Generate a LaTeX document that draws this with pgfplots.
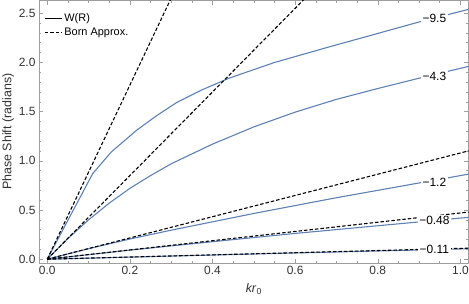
\documentclass[border=0pt]{standalone}
\usepackage{fontspec}
\setmainfont{Liberation Sans}
\usepackage{pgfplots}
\pgfplotsset{compat=1.18}
\definecolor{mblue}{rgb}{0.368417,0.506779,0.709798}
\definecolor{framegray}{rgb}{0.62,0.62,0.62}
\begin{document}
\begin{tikzpicture}
\begin{axis}[name=ax,
  scale only axis, width=430bp, height=263bp,
  xmin=-0.02, xmax=1.02, ymin=-0.04, ymax=2.632,
  axis line style={framegray, line width=0.6bp},
  tick style={framegray, line width=0.6bp},
  tick align=inside,
  major tick length=4.5bp, minor tick length=2.5bp,
  xtick={0,0.2,0.4,0.6,0.8,1.0}, minor x tick num=3,
  ytick={0,0.5,1.0,1.5,2.0,2.5}, minor y tick num=4,
  /pgf/number format/assume math mode=true,
  xticklabel style={/pgf/number format/.cd, fixed, fixed zerofill, precision=1},
  yticklabel style={/pgf/number format/.cd, fixed, fixed zerofill, precision=1},
  ticklabel style={font=\fontsize{12}{14}\selectfont, text=black!80},
  xlabel={\textit{kr}\textsubscript{0}},
  ylabel={Phase Shift (radians)},
  every axis x label/.style={at={(axis description cs:0.5,-0.097)}, anchor=center, font=\fontsize{12.5}{14}\selectfont, text=black!80},
  every axis y label/.style={at={(axis description cs:-0.072,0.5)}, anchor=center, rotate=90, font=\fontsize{12.5}{14}\selectfont, text=black!80},
  legend style={at={(0.005,0.965)}, anchor=north west, draw=none, fill=none, font=\fontsize{11}{13}\selectfont, row sep=1bp},
  legend cell align=left,
  legend image post style={line width=1.1bp},
  clip=true,
]
\addlegendimage{black, line width=1.1bp}
\addlegendentry{W(R)}
\addlegendimage{black, line width=1.1bp, dash pattern=on 3.5bp off 2bp}
\addlegendentry{Born Approx.}

% W(R) curves
\addplot[mblue, line width=1.1bp, forget plot] coordinates {
(0,0) (0.11,0.87) (0.155,1.09) (0.216,1.31) (0.265,1.46) (0.314,1.595) (0.371,1.715)
(0.44,1.84) (0.55,2.00) (0.688,2.165) (0.8,2.295) (0.907,2.42) (1.02,2.54)};
\addplot[mblue, line width=1.1bp, forget plot] coordinates {
(0,0) (0.05,0.21) (0.1,0.40) (0.15,0.57) (0.2,0.72) (0.25,0.85) (0.3,0.97) (0.4,1.17)
(0.5,1.345) (0.6,1.495) (0.7,1.625) (0.8,1.735) (0.9,1.84) (1.0,1.94) (1.02,1.96)};
\addplot[mblue, line width=1.1bp, forget plot] coordinates {
(0,0) (0.1,0.107) (0.2,0.205) (0.3,0.295) (0.4,0.38) (0.5,0.465) (0.6,0.545)
(0.7,0.625) (0.8,0.70) (0.9,0.775) (1.0,0.85) (1.02,0.865)};
\addplot[mblue, line width=1.1bp, forget plot] coordinates {
(0,0) (0.2,0.092) (0.4,0.178) (0.6,0.262) (0.8,0.34) (1.0,0.418) (1.02,0.425)};
\addplot[mblue, line width=1.1bp, forget plot] coordinates {
(0,0) (0.5,0.053) (1.0,0.104) (1.02,0.106)};

% Born approximation lines
\addplot[black, line width=1.1bp, dash pattern=on 3.5bp off 2bp, forget plot] coordinates {(0,0) (0.35,3.0975)};
\addplot[black, line width=1.1bp, dash pattern=on 3.5bp off 2bp, forget plot] coordinates {(0,0) (0.7,2.975)};
\addplot[black, line width=1.1bp, dash pattern=on 3.5bp off 2bp, forget plot] coordinates {(0,0) (1.02,1.1016)};
\addplot[black, line width=1.1bp, dash pattern=on 3.5bp off 2bp, forget plot] coordinates {(0,0) (1.02,0.4794)};
\addplot[black, line width=1.1bp, dash pattern=on 3.5bp off 2bp, forget plot] coordinates {(0,0) (1.02,0.1122)};

% contour-style labels
\addplot[draw=none, forget plot, nodes near coords, point meta=explicit symbolic,
  every node near coord/.style={anchor=center, fill=white, inner sep=1.5bp, text=black, font=\fontsize{12}{14}\selectfont}]
  coordinates {(0.937,2.45) [−9.5] (0.937,1.86) [−4.3] (0.937,0.78) [−1.2] (0.937,0.39) [−0.48] (0.937,0.095) [−0.11]};
\end{axis}
\pgfresetboundingbox
\path[use as bounding box] ([shift={(-39bp,-40bp)}]ax.south west) rectangle ([shift={(0.3bp,0.3bp)}]ax.north east);
\end{tikzpicture}
\end{document}
